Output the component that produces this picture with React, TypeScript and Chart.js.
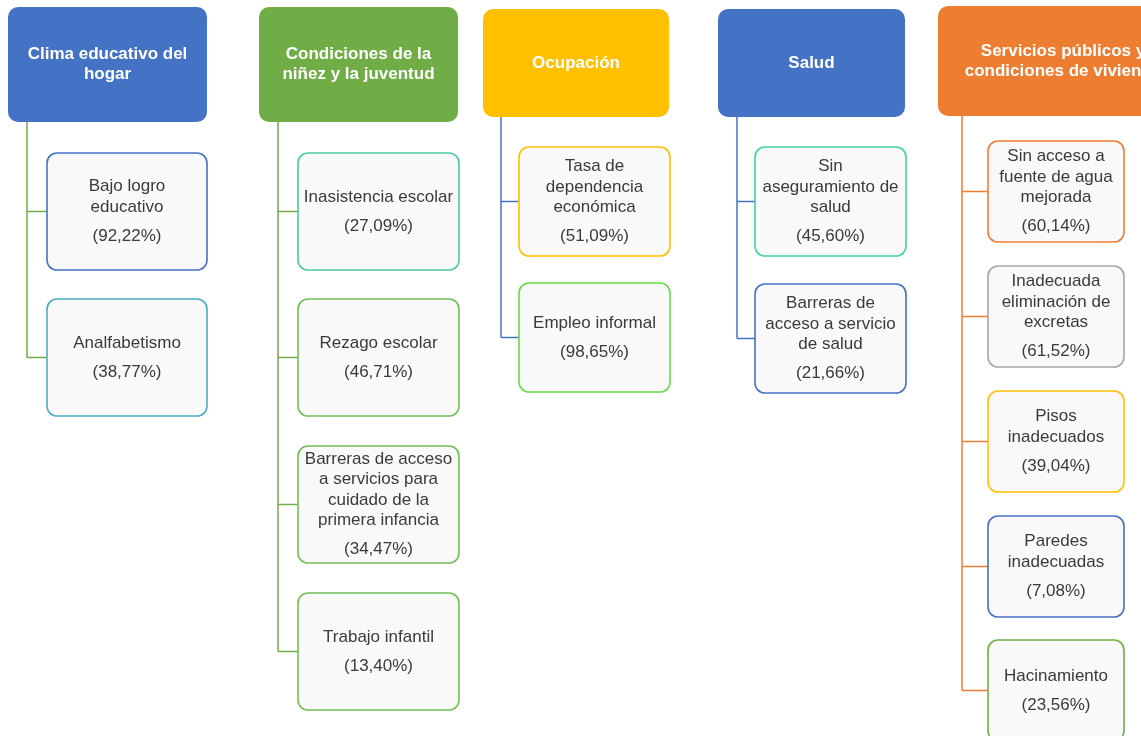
import React, { useEffect, useRef } from "react";
import { Chart, registerables } from "chart.js";

Chart.register(...registerables);

// ---- data ----
const groupTitles: string[] = [
  "Clima educativo del\nhogar",
  "Condiciones de la\nniñez y la juventud",
  "Ocupación",
  "Salud",
  "Servicios públicos y\ncondiciones de vivienda",
];

const climaNames = ["Bajo logro\neducativo", "Analfabetismo"];
const climaValues = [92.22, 38.77];

const ninezNames = [
  "Inasistencia escolar",
  "Rezago escolar",
  "Barreras de acceso\na servicios para\ncuidado de la\nprimera infancia",
  "Trabajo infantil",
];
const ninezValues = [27.09, 46.71, 34.47, 13.4];

const ocupacionNames = ["Tasa de\ndependencia\neconómica", "Empleo informal"];
const ocupacionValues = [51.09, 98.65];

const saludNames = ["Sin\naseguramiento de\nsalud", "Barreras de\nacceso a servicio\nde salud"];
const saludValues = [45.6, 21.66];

const serviciosNames = [
  "Sin acceso a\nfuente de agua\nmejorada",
  "Inadecuada\neliminación de\nexcretas",
  "Pisos\ninadecuados",
  "Paredes\ninadecuadas",
  "Hacinamiento",
];
const serviciosValues = [60.14, 61.52, 39.04, 7.08, 23.56];

const indicatorNames = [climaNames, ninezNames, ocupacionNames, saludNames, serviciosNames];
const indicatorValues = [climaValues, ninezValues, ocupacionValues, saludValues, serviciosValues];

// ---- layout (diagram coordinates, mapped through the chart scales) ----
const W = 1141;
const H = 736;

const headerBoxes = [
  { x0: 8, x1: 207, y0: 7, y1: 122 },
  { x0: 259, x1: 458, y0: 7, y1: 122 },
  { x0: 483, x1: 669, y0: 9, y1: 117 },
  { x0: 718, x1: 905, y0: 9, y1: 117 },
  { x0: 938, x1: 1188, y0: 6, y1: 116 },
];
const childLayout = [
  { x0: 47, x1: 207, h: 117, tops: [153, 299] },
  { x0: 298, x1: 459, h: 117, tops: [153, 299, 446, 593] },
  { x0: 519, x1: 670, h: 109, tops: [147, 283] },
  { x0: 755, x1: 906, h: 109, tops: [147, 284] },
  { x0: 988, x1: 1124, h: 101, tops: [141, 266, 391, 516, 640] },
];
const connectorX = [27, 278, 501, 737, 962];

// ---- styles ----
const headerColors = ["#4472C4", "#70AD47", "#FFC000", "#4472C4", "#ED7D31"];
const connectorColors = ["#70AD47", "#70AD47", "#4472C4", "#4472C4", "#ED7D31"];
const borderColors = [
  ["#4472C4", "#4BACC6"],
  ["#4CC9A6", "#70C05A", "#70C05A", "#70C05A"],
  ["#FFC000", "#66DD44"],
  ["#3ED39F", "#4472C4"],
  ["#ED7D31", "#A5A5A5", "#FFC000", "#4472C4", "#70AD47"],
];
const FONT = '"Liberation Sans", Arial, sans-serif';

const fmt = (v: number) => "(" + v.toFixed(2).replace(".", ",") + "%)";

const diagramPlugin = {
  id: "diagram",
  afterDatasetsDraw(chart: any) {
    const ctx: CanvasRenderingContext2D = chart.ctx;
    const sx = chart.scales.x;
    const sy = chart.scales.y;
    const px = (v: number) => sx.getPixelForValue(v);
    const py = (v: number) => sy.getPixelForValue(v);
    ctx.save();
    ctx.textAlign = "center";
    ctx.textBaseline = "middle";

    groupTitles.forEach((title, g) => {
      const hb = headerBoxes[g];
      const cl = childLayout[g];
      const names = indicatorNames[g];
      const vals = indicatorValues[g];

      // connectors
      ctx.strokeStyle = connectorColors[g];
      ctx.lineWidth = 1.5;
      const lastMid = cl.tops[names.length - 1] + cl.h / 2;
      ctx.beginPath();
      ctx.moveTo(px(connectorX[g]), py(hb.y1));
      ctx.lineTo(px(connectorX[g]), py(lastMid));
      ctx.stroke();
      names.forEach((_, i) => {
        const mid = cl.tops[i] + cl.h / 2;
        ctx.beginPath();
        ctx.moveTo(px(connectorX[g]), py(mid));
        ctx.lineTo(px(cl.x0), py(mid));
        ctx.stroke();
      });

      // header
      ctx.fillStyle = headerColors[g];
      ctx.beginPath();
      ctx.roundRect(px(hb.x0), py(hb.y0), px(hb.x1) - px(hb.x0), py(hb.y1) - py(hb.y0), 10);
      ctx.fill();
      ctx.fillStyle = "#FFFFFF";
      ctx.font = "bold 17px " + FONT;
      const tl = title.split("\n");
      const hc = (hb.y0 + hb.y1) / 2;
      const hx = (hb.x0 + hb.x1) / 2;
      tl.forEach((line, k) => {
        const y = hc - ((tl.length - 1) * 20) / 2 + k * 20;
        ctx.fillText(line, px(hx), py(y));
      });

      // children
      names.forEach((name, i) => {
        const top = cl.tops[i];
        ctx.fillStyle = "#F9F9F9";
        ctx.strokeStyle = borderColors[g][i];
        ctx.lineWidth = 1.6;
        ctx.beginPath();
        ctx.roundRect(px(cl.x0), py(top), px(cl.x1) - px(cl.x0), py(top + cl.h) - py(top), 10);
        ctx.fill();
        ctx.stroke();

        ctx.fillStyle = "#3A3A3A";
        ctx.font = "17px " + FONT;
        const lines = name.split("\n");
        const block = (lines.length - 1) * 20.5 + 29;
        const first = top + cl.h / 2 - block / 2;
        const cx = (cl.x0 + cl.x1) / 2;
        lines.forEach((line, k) => {
          ctx.fillText(line, px(cx), py(first + k * 20.5));
        });
        ctx.fillText(fmt(vals[i]), px(cx), py(first + (lines.length - 1) * 20.5 + 29));
      });
    });
    ctx.restore();
  },
};

export default function App() {
  const ref = useRef<HTMLCanvasElement | null>(null);
  useEffect(() => {
    document.body.style.margin = "0";
    document.body.style.background = "#FFFFFF";
    if (!ref.current) return;
    const points: { x: number; y: number }[] = [];
    indicatorValues.forEach((vals, g) => {
      vals.forEach((_, i) => {
        const cl = childLayout[g];
        points.push({ x: (cl.x0 + cl.x1) / 2, y: cl.tops[i] + cl.h / 2 });
      });
    });
    const chart = new Chart(ref.current, {
      type: "scatter",
      data: {
        datasets: [
          {
            data: points,
            pointRadius: 0,
            pointHoverRadius: 0,
          },
        ],
      },
      options: {
        animation: false,
        responsive: false,
        events: [],
        layout: { padding: 0 },
        plugins: {
          legend: { display: false },
          tooltip: { enabled: false },
          title: { display: false },
        },
        scales: {
          x: { type: "linear", min: 0, max: W, display: false },
          y: { type: "linear", min: 0, max: H, reverse: true, display: false },
        },
      },
      plugins: [diagramPlugin],
    });
    return () => chart.destroy();
  }, []);
  return (
    <div style={{ width: W, height: H, overflow: "hidden" }}>
      <canvas ref={ref} width={W} height={H} style={{ display: "block", width: W, height: H }} />
    </div>
  );
}
